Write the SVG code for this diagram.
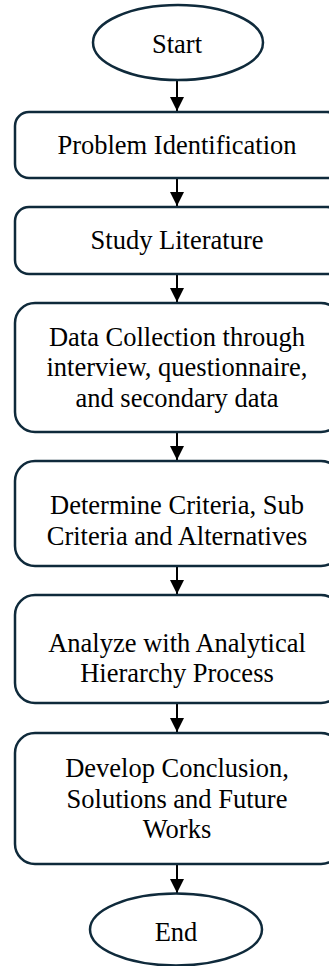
<svg xmlns="http://www.w3.org/2000/svg" width="329" height="966" viewBox="0 0 329 966">
<style>
.shape{fill:#ffffff;stroke:#0f2a3b;stroke-width:2.5}
.conn{stroke:#000000;stroke-width:2;fill:none}
text{font-family:"Liberation Serif","Times New Roman",serif;font-size:26.5px;fill:#000000;text-anchor:middle}
</style>
<defs>
<marker id="arr" markerUnits="userSpaceOnUse" markerWidth="14" markerHeight="15" refX="14" refY="7" orient="auto">
<path d="M0,0 L14,7 L0,14 Z" fill="#000000"/>
</marker>
</defs>
<rect width="329" height="966" fill="#ffffff"/>
<g id="connectors">
<line class="conn" x1="177" y1="80" x2="177" y2="111" marker-end="url(#arr)"/>
<line class="conn" x1="177" y1="178" x2="177" y2="206" marker-end="url(#arr)"/>
<line class="conn" x1="177" y1="274" x2="177" y2="302" marker-end="url(#arr)"/>
<line class="conn" x1="177" y1="432" x2="177" y2="460" marker-end="url(#arr)"/>
<line class="conn" x1="177" y1="566" x2="177" y2="594" marker-end="url(#arr)"/>
<line class="conn" x1="177" y1="703" x2="177" y2="732" marker-end="url(#arr)"/>
<line class="conn" x1="177" y1="864" x2="177" y2="893" marker-end="url(#arr)"/>
</g>
<g id="start">
<ellipse class="shape" cx="178" cy="42.5" rx="85" ry="37.5"/>
<text x="177" y="53">Start</text>
</g>
<g id="problem">
<rect class="shape" x="15" y="112" width="326" height="66" rx="14"/>
<text x="177" y="154">Problem Identification</text>
</g>
<g id="literature">
<rect class="shape" x="15" y="207" width="326" height="67" rx="14"/>
<text x="177" y="249">Study Literature</text>
</g>
<g id="data">
<rect class="shape" x="15" y="303" width="326" height="129" rx="20"/>
<text x="177" y="346">Data Collection through</text>
<text x="177" y="376">interview, questionnaire,</text>
<text x="177" y="407">and secondary data</text>
</g>
<g id="criteria">
<rect class="shape" x="15" y="461" width="326" height="105" rx="20"/>
<text x="177" y="514">Determine Criteria, Sub</text>
<text x="177" y="545">Criteria and Alternatives</text>
</g>
<g id="ahp">
<rect class="shape" x="15" y="595" width="326" height="108" rx="20"/>
<text x="177" y="652">Analyze with Analytical</text>
<text x="177" y="682">Hierarchy Process</text>
</g>
<g id="conclusion">
<rect class="shape" x="15" y="733" width="326" height="131" rx="20"/>
<text x="177" y="777">Develop Conclusion,</text>
<text x="177" y="808">Solutions and Future</text>
<text x="177" y="838">Works</text>
</g>
<g id="end">
<ellipse class="shape" cx="176" cy="929.5" rx="86" ry="36"/>
<text x="176" y="941">End</text>
</g>
</svg>
